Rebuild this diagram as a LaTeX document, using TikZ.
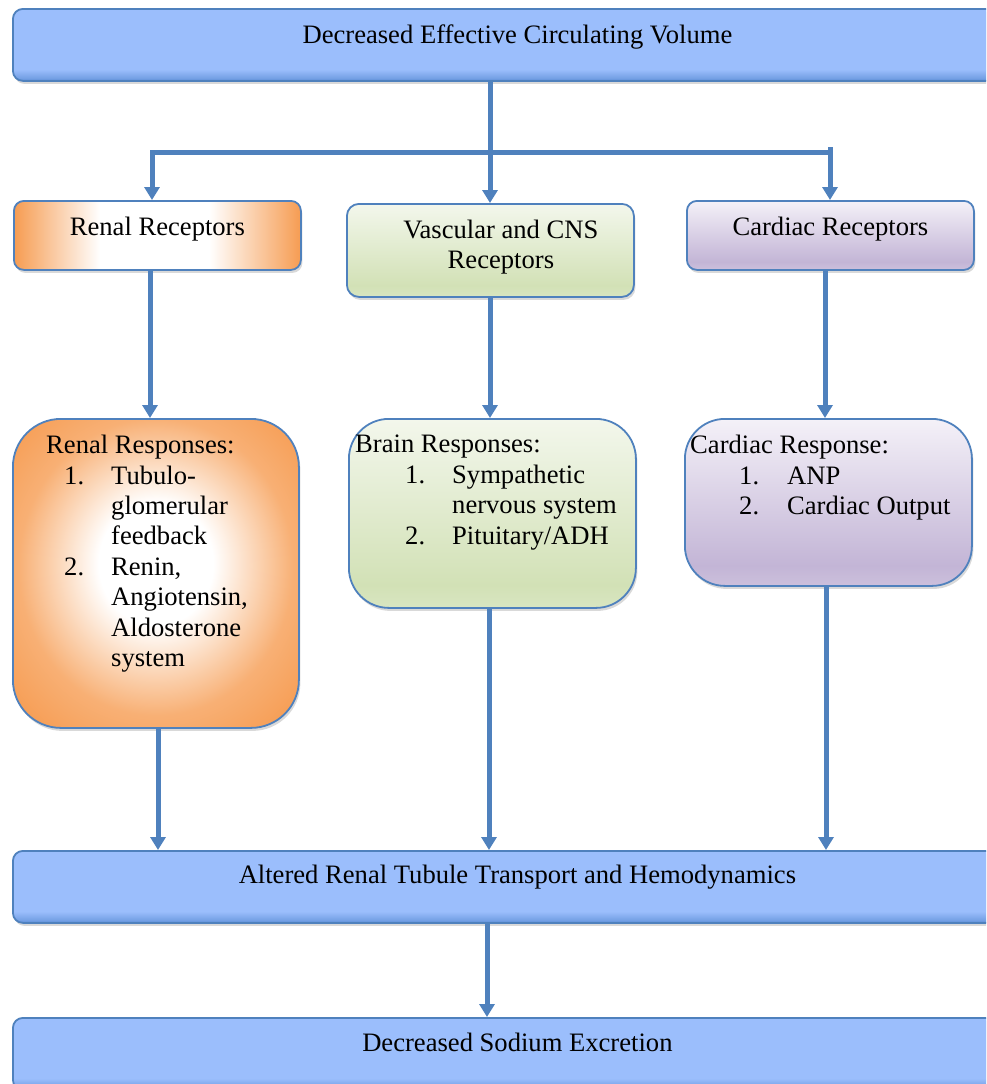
\documentclass[tikz,border=0pt]{standalone}
\usepackage{fontspec}
\setmainfont{Liberation Serif}
\usetikzlibrary{positioning, arrows.meta, shadows}
\definecolor{nvblue}{HTML}{9BBEFC}
\definecolor{nvbluedark}{HTML}{5A8CD5}
\definecolor{nvline}{HTML}{4F81BD}
\definecolor{nvorange}{HTML}{F69C52}
\definecolor{nvgreentop}{HTML}{F3F7EC}
\definecolor{nvgreen}{HTML}{D2E1B6}
\definecolor{nvviolettop}{HTML}{F4F1F8}
\definecolor{nvviolet}{HTML}{C3B5D6}

\pgfdeclareverticalshading{nvbar}{100bp}{color(0bp)=(nvbluedark); color(25bp)=(nvbluedark);
  color(27bp)=(nvbluedark!60!nvblue); color(33bp)=(nvblue); color(100bp)=(nvblue)}
\pgfdeclarehorizontalshading{nvband}{100bp}{color(0bp)=(nvorange); color(25bp)=(nvorange);
  color(40bp)=(white); color(59bp)=(white); color(75bp)=(nvorange); color(100bp)=(nvorange)}
\pgfdeclareradialshading{nvglow}{\pgfpoint{0bp}{2bp}}{color(0bp)=(white); color(10bp)=(white);
  color(24bp)=(nvorange!80!white); color(34bp)=(nvorange); color(50bp)=(nvorange)}
\pgfdeclareverticalshading{nvsage}{100bp}{color(0bp)=(nvgreen!85!white); color(25bp)=(nvgreen!85!white);
  color(31bp)=(nvgreen); color(75bp)=(nvgreentop); color(100bp)=(nvgreentop)}
\pgfdeclareverticalshading{nvlilac}{100bp}{color(0bp)=(nvviolet!85!white); color(25bp)=(nvviolet!85!white);
  color(31bp)=(nvviolet); color(75bp)=(nvviolettop); color(100bp)=(nvviolettop)}

\begin{document}
\begin{tikzpicture}[x=1pt, y=-1pt, font=\fontsize{26.6}{30.4}\selectfont,
    >={Triangle[width=15pt, length=13pt]},
    card/.style={draw=nvline, line width=1.8pt, inner sep=0pt, anchor=north west,
      drop shadow={opacity=0.3, shadow xshift=1.5pt, shadow yshift=-3pt}},
    bar/.style={card, rounded corners=10pt, shading=nvbar, minimum width=1009pt},
    listtxt/.style={align=left, inner sep=0pt, anchor=north west},
    flow/.style={draw=nvline, line width=5pt}]
  \useasboundingbox (0,0) rectangle (986,1084);
  \clip (0,0) rectangle (986,1084);
  % blue bars
  \node[bar, text height=35pt, text depth=37pt] (dec) at (12,8) {Decreased Effective Circulating Volume};
  \node[bar, text height=33pt, text depth=39pt] (alt) at (12,850) {Altered Renal Tubule Transport and Hemodynamics};
  \node[bar, text height=34pt, text depth=38pt] (sod) at (12,1017) {Decreased Sodium Excretion};
  % receptors
  \node[card, rounded corners=10pt, shading=nvband, minimum width=287pt,
        text height=35pt, text depth=34pt] (rrec) at (13,200) {Renal Receptors};
  \node[card, rounded corners=12pt, shading=nvsage, minimum width=287pt, minimum height=93pt] (vasc) at (346,203) {};
  \node[align=center, inner sep=0pt, anchor=north] (vasctxt) at ([xshift=10.5pt, yshift=-16.8pt]vasc.north)
        {Vascular and CNS\\Receptors};
  \node[card, rounded corners=10pt, shading=nvlilac, minimum width=287pt,
        text height=35pt, text depth=34pt] (crec) at (686,200) {Cardiac Receptors};
  % responses
  \node[card, rounded corners=48pt, shading=nvglow, minimum width=286pt, minimum height=309pt] (rresp) at (12,418) {};
  \node[listtxt] (rresptxt) at ([xshift=34pt, yshift=-17pt]rresp.north west)
        {Renal Responses:\\
         \hspace*{18pt}\makebox[47pt][l]{1.}Tubulo-\\
         \hspace*{65pt}glomerular\\
         \hspace*{65pt}feedback\\
         \hspace*{18pt}\makebox[47pt][l]{2.}Renin,\\
         \hspace*{65pt}Angiotensin,\\
         \hspace*{65pt}Aldosterone\\
         \hspace*{65pt}system};
  \node[card, rounded corners=40pt, shading=nvsage, minimum width=287pt, minimum height=189pt] (bresp) at (348,418) {};
  \node[listtxt] (bresptxt) at ([xshift=7pt, yshift=-17pt]bresp.north west)
        {Brain Responses:\\
         \hspace*{50pt}\makebox[47pt][l]{1.}Sympathetic\\
         \hspace*{97pt}nervous system\\
         \hspace*{50pt}\makebox[47pt][l]{2.}Pituitary/ADH};
  \node[card, rounded corners=40pt, shading=nvlilac, minimum width=287pt, minimum height=167pt] (cresp) at (684,418) {};
  \node[listtxt] (cresptxt) at ([xshift=6pt, yshift=-17pt]cresp.north west)
        {Cardiac Response:\\
         \hspace*{49pt}\makebox[48pt][l]{1.}ANP\\
         \hspace*{49pt}\makebox[48pt][l]{2.}Cardiac Output};
  % branching below the top bar
  \coordinate (colL) at (152,152);
  \coordinate (colM) at (490,152);
  \coordinate (colR) at (830,152);
  \draw[flow, ->] (dec.south -| colM) -- (vasc.north -| colM);
  \draw[flow, ->] (colR) -- (colL) -- (rrec.north -| colL);
  \draw[flow, ->] ([yshift=5pt]colR) -- (crec.north -| colR);
  % receptors to responses
  \foreach \from/\to/\x in {rrec/rresp/150, vasc/bresp/490, crec/cresp/825}
    \draw[flow, ->] (\from.south -| \x,0) -- (\to.north -| \x,0);
  % responses to the renal tubule bar
  \foreach \from/\x in {rresp/158, bresp/489, cresp/826}
    \draw[flow, ->] (\from.south -| \x,0) -- (alt.north -| \x,0);
  \draw[flow, ->] (alt.south -| 487,0) -- (sod.north -| 487,0);
\end{tikzpicture}
\end{document}
